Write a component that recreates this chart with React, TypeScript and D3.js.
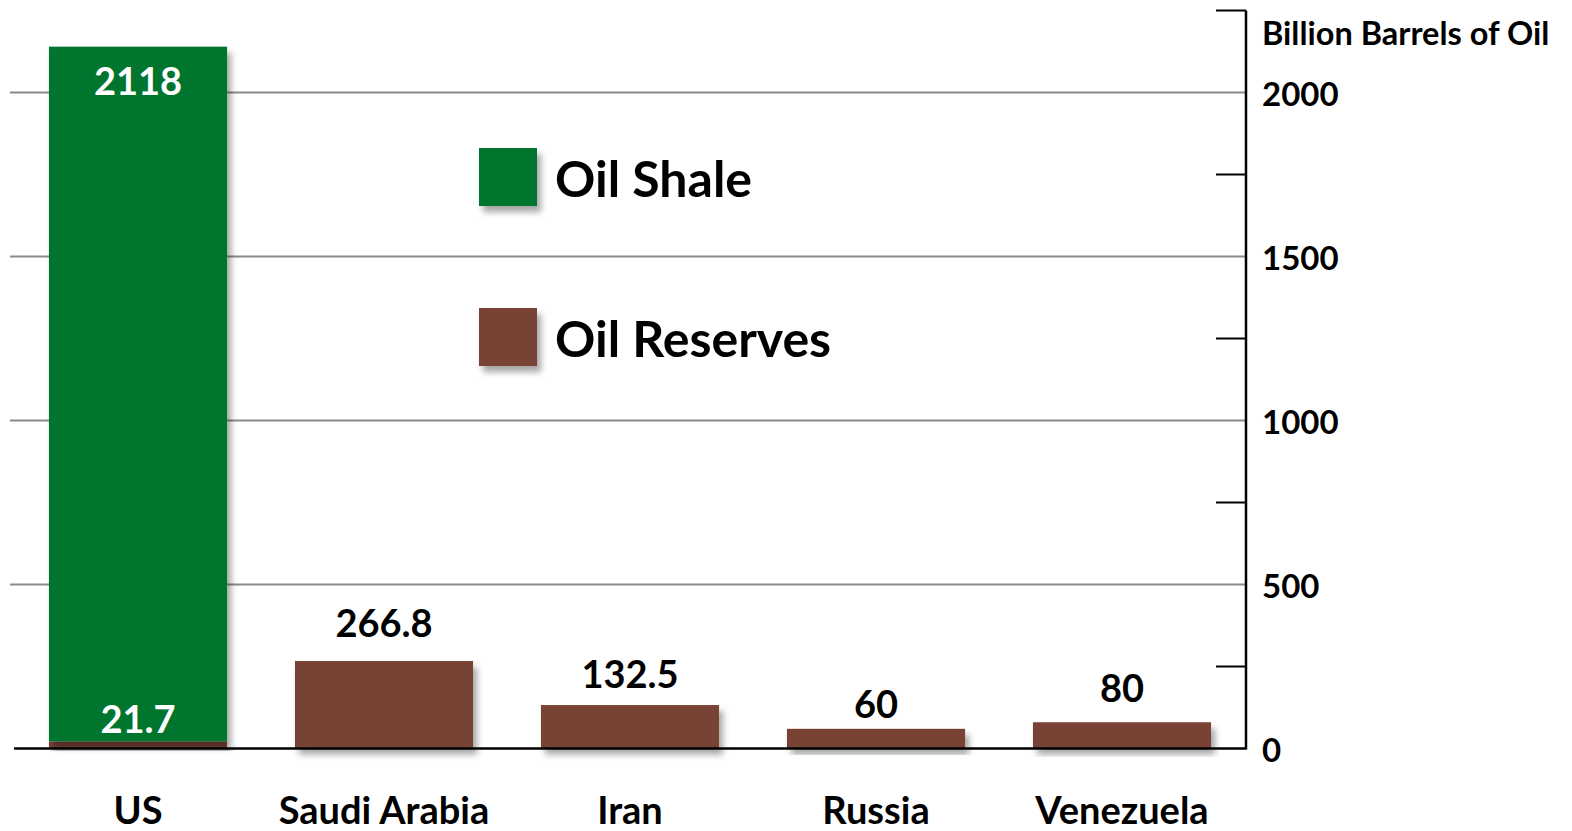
import React from "react";
import * as d3 from "d3";

const categories = ["US", "Saudi Arabia", "Iran", "Russia", "Venezuela"];
const oilReserves = [21.7, 266.8, 132.5, 60, 80];
const oilShale = [2118, 0, 0, 0, 0];
const majorTicks = [0, 500, 1000, 1500, 2000];
const minorTicks = [250, 750, 1250, 1750, 2250];
const seriesNames = ["Oil Reserves", "Oil Shale"];
const seriesColors = ["#784336", "#03752f"];
const axisTitle = "Billion Barrels of Oil";

const W = 1572;
const H = 831;
const FONT = "Lato, 'Open Sans', 'DejaVu Sans', sans-serif";
// gap between bar top and label baseline, per bar (as in the reference)
const LABEL_GAP = [8, 24, 17, 11, 20];

export default function App() {
  const x = d3
    .scaleBand<string>()
    .domain(categories)
    .range([15, 1245])
    .paddingInner(0.276)
    .paddingOuter(0.138);
  const y = d3.scaleLinear().domain([0, 2250]).range([748.5, 10.5]);

  const rows = categories.map((c, i) => ({
    cat: c,
    "Oil Reserves": oilReserves[i],
    "Oil Shale": oilShale[i],
  }));
  const stacked = d3.stack<any>().keys(seriesNames)(rows);
  const axisX = 1246;

  return (
    <svg
      width={W}
      height={H}
      style={{ position: "fixed", left: 0, top: 0, display: "block", background: "#fff" }}
      fontFamily={FONT}
    >
      <defs>
        <filter id="shadow" x="-10%" y="-10%" width="130%" height="140%">
          <feDropShadow dx="4" dy="6" stdDeviation="3" floodColor="#000" floodOpacity="0.35" />
        </filter>
      </defs>
      <rect x={0} y={0} width={W} height={H} fill="#fff" />

      {/* gridlines */}
      {majorTicks
        .filter((t) => t > 0)
        .map((t) => (
          <line key={t} x1={10} x2={axisX} y1={y(t)} y2={y(t)} stroke="#8a8a8a" strokeWidth={2} />
        ))}
      {/* minor ticks */}
      {minorTicks.map((t) => (
        <line key={t} x1={1216} x2={axisX} y1={y(t)} y2={y(t)} stroke="#000" strokeWidth={2} />
      ))}
      {/* axis line */}
      <line x1={axisX} x2={axisX} y1={y(2250)} y2={y(0) + 1} stroke="#000" strokeWidth={2.5} />
      {/* tick labels */}
      {majorTicks.map((t) => (
        <text key={t} x={1262} y={y(t) + 13} fontSize={33} fontWeight={700} fill="#000">
          {t}
        </text>
      ))}
      <text x={1262} y={45} fontSize={32.5} fontWeight={700} fill="#000">
        {axisTitle}
      </text>

      {/* bars */}
      {stacked.map((s, si) =>
        s.map((d, i) =>
          d[1] - d[0] > 0 ? (
            <rect
              key={`${si}-${i}`}
              x={x(categories[i])}
              width={x.bandwidth()}
              y={y(d[1])}
              height={y(d[0]) - y(d[1])}
              fill={seriesColors[si]}
              filter="url(#shadow)"
            />
          ) : null
        )
      )}

      {/* baseline */}
      <line x1={14} x2={axisX} y1={y(0)} y2={y(0)} stroke="#000" strokeWidth={2.5} />

      {/* value labels */}
      {categories.map((c, i) => {
        const cx = (x(c) as number) + x.bandwidth() / 2;
        if (oilShale[i] > 0) {
          return (
            <g key={c}>
              <text x={cx} y={y(oilShale[i] + oilReserves[i]) + 48} textAnchor="middle" fontSize={38} fontWeight={700} fill="#fff">
                {oilShale[i]}
              </text>
              <text x={cx} y={y(oilReserves[i]) - LABEL_GAP[i]} textAnchor="middle" fontSize={38} fontWeight={700} fill="#fff">
                {oilReserves[i]}
              </text>
            </g>
          );
        }
        return (
          <text key={c} x={cx} y={y(oilReserves[i]) - LABEL_GAP[i]} textAnchor="middle" fontSize={38} fontWeight={700} fill="#000">
            {oilReserves[i]}
          </text>
        );
      })}

      {/* category labels */}
      {categories.map((c) => (
        <text key={c} x={(x(c) as number) + x.bandwidth() / 2} y={824} textAnchor="middle" fontSize={38} fontWeight={700} fill="#000">
          {c}
        </text>
      ))}

      {/* legend */}
      {[1, 0].map((si, k) => (
        <g key={si} transform={`translate(479, ${148 + k * 160})`}>
          <rect x={0} y={0} width={58} height={58} fill={seriesColors[si]} filter="url(#shadow)" />
          <text x={76} y={49} fontSize={50} fontWeight={700} fill="#000">
            {seriesNames[si]}
          </text>
        </g>
      ))}
    </svg>
  );
}
